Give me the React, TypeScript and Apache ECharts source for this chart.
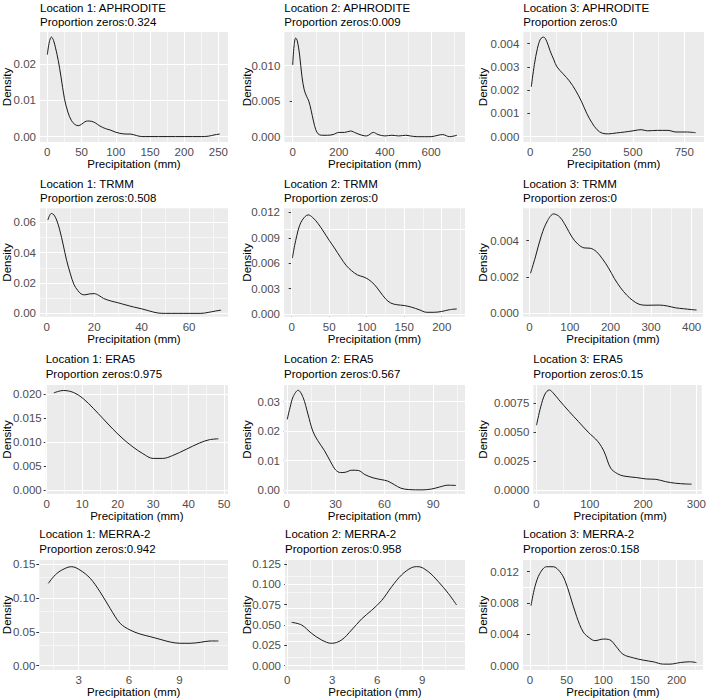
import React, { useEffect, useRef } from "react";
import * as echarts from "echarts";

// ---------- data ----------
const panelTitles = [
  "Location 1: APHRODITE", "Location 2: APHRODITE", "Location 3: APHRODITE",
  "Location 1: TRMM", "Location 2: TRMM", "Location 3: TRMM",
  "Location 1: ERA5", "Location 2: ERA5", "Location 3: ERA5",
  "Location 1: MERRA-2", "Location 2: MERRA-2", "Location 3: MERRA-2",
];
const proportionZeros = ["0.324", "0.009", "0", "0.508", "0", "0", "0.975", "0.567", "0.15", "0.942", "0.958", "0.158"];

const loc1Aphrodite = [
  [0, 0.0226], [3, 0.0262], [6, 0.0275], [9, 0.0266], [12, 0.0245], [16, 0.021], [20, 0.0165], [25, 0.0105],
  [30, 0.0068], [35, 0.0045], [40, 0.0034], [45, 0.003], [50, 0.0034], [55, 0.0041], [59, 0.0043], [65, 0.0042],
  [70, 0.0038], [77, 0.0029], [85, 0.0022], [92, 0.0018], [100, 0.0012], [106, 0.0009], [115, 0.0007], [121, 0.0007],
  [130, 0.0003], [138, 0.0], [150, 0], [175, 0], [200, 0], [225, 0], [235, 0.0001], [245, 0.0005], [252, 0.0007],
];
const loc2Aphrodite = [
  [0, 0.0101], [6, 0.0128], [13, 0.0139], [20, 0.0135], [30, 0.0115], [40, 0.0085], [50, 0.0066], [60, 0.0057],
  [70, 0.005], [80, 0.0037], [90, 0.0022], [100, 0.001], [110, 0.0004], [125, 0.0002], [150, 0.0002], [175, 0.0003],
  [200, 0.0006], [225, 0.0006], [250, 0.0008], [275, 0.0005], [300, 0.0002], [320, 0.0001], [350, 0.0006], [370, 0.0003],
  [400, 0.0001], [430, 0.0002], [460, 0.0001], [490, 0.0002], [510, 0.0001], [540, 0], [600, 0], [630, 0.0002],
  [650, 0.0003], [680, 0], [700, 0.0001], [712, 0.0002],
];
const loc3Aphrodite = [
  [5, 0.00215], [20, 0.0031], [35, 0.0038], [50, 0.0042], [65, 0.00428], [80, 0.0041], [96, 0.0037], [115, 0.0033],
  [130, 0.003], [160, 0.0027], [190, 0.0024], [220, 0.002], [250, 0.0015], [275, 0.001], [300, 0.0006], [325, 0.0003],
  [350, 0.00015], [380, 0.00012], [420, 0.00016], [460, 0.0002], [500, 0.00025], [540, 0.0003], [570, 0.00025],
  [620, 0.00027], [670, 0.00027], [710, 0.0002], [760, 0.0002], [805, 0.00017],
];
const loc1Trmm = [
  [0.5, 0.0615], [2, 0.0658], [3, 0.065], [4.2, 0.0615], [5.5, 0.055], [7, 0.045], [8.4, 0.035], [10, 0.026],
  [11.5, 0.019], [13, 0.0153], [14.5, 0.0128], [16, 0.0122], [18, 0.0128], [20, 0.013], [22, 0.0118], [24, 0.0098],
  [27, 0.0082], [30, 0.007], [33, 0.0057], [36.6, 0.0042], [40, 0.003], [43, 0.0017], [47, 0.0002], [50, 0],
  [55, 0], [60, 0], [65, 0], [68, 0.0006], [71, 0.0015], [73.5, 0.0021],
];
const loc2Trmm = [
  [1, 0.0066], [4, 0.0081], [7, 0.0093], [10, 0.0103], [15, 0.0112], [22, 0.0117], [28, 0.0114], [35, 0.0107],
  [42, 0.0098], [50, 0.0087], [57, 0.0078], [65, 0.0067], [73, 0.0057], [80, 0.0051], [88, 0.0046], [95, 0.0044],
  [102, 0.0041], [110, 0.0035], [118, 0.0026], [125, 0.0018], [132, 0.0013], [140, 0.0011], [150, 0.001],
  [160, 0.0008], [170, 0.0005], [180, 0.0002], [190, 0.0002], [200, 0.0003], [210, 0.0005], [220, 0.0006],
];
const loc3Trmm = [
  [3, 0.0022], [15, 0.0031], [30, 0.0043], [45, 0.0051], [60, 0.00547], [75, 0.0053], [90, 0.0048], [105, 0.0042],
  [120, 0.0038], [135, 0.0036], [150, 0.00358], [165, 0.0034], [180, 0.003], [195, 0.0025], [210, 0.0019],
  [225, 0.0014], [240, 0.001], [255, 0.0007], [270, 0.0005], [290, 0.00044], [320, 0.00045], [340, 0.0004],
  [360, 0.0003], [380, 0.00025], [400, 0.0002], [412, 0.00018],
];
const loc1Era5 = [
  [2, 0.0203], [4.7, 0.0208], [7.5, 0.0204], [10.3, 0.0191], [13.1, 0.0171], [15.9, 0.0149], [18.7, 0.0127],
  [21.5, 0.0107], [24.3, 0.009], [27.1, 0.0076], [30, 0.0066], [32.7, 0.0066], [35.5, 0.0072], [39.3, 0.0085],
  [43, 0.0098], [45.8, 0.0105], [48.4, 0.0107],
];
const loc2Era5 = [
  [0.3, 0.024], [2, 0.028], [4, 0.0318], [7, 0.0339], [10, 0.0315], [13, 0.0258], [16, 0.02], [19, 0.0168],
  [23, 0.0135], [27, 0.0095], [30, 0.0068], [33, 0.0059], [36, 0.006], [40, 0.0067], [44, 0.0066], [48, 0.0052],
  [53, 0.0041], [58, 0.0035], [62, 0.003], [66, 0.0018], [70, 0.0006], [75, 0.0001], [83, 0], [89, 0.0003],
  [94, 0.001], [99, 0.0016], [104, 0.0015],
];
const loc3Era5 = [
  [0, 0.0056], [8, 0.0072], [16, 0.0083], [24, 0.00865], [33, 0.0083], [42, 0.0078], [61, 0.0068], [79, 0.0059],
  [97, 0.005], [115, 0.0042], [127, 0.0033], [139, 0.0019], [152, 0.0014], [164, 0.0012], [188, 0.00107],
  [206, 0.00095], [224, 0.00092], [242, 0.00072], [261, 0.00058], [279, 0.00052], [291, 0.0005],
];
const loc1Merra2 = [
  [1.19, 0.1215], [1.69, 0.136], [2.29, 0.1446], [2.58, 0.146], [3.08, 0.141], [3.68, 0.129], [4.27, 0.109],
  [4.87, 0.0846], [5.47, 0.0625], [6.06, 0.0526], [6.66, 0.0467], [7.26, 0.0428], [7.85, 0.0389], [8.45, 0.0349],
  [9.05, 0.033], [9.64, 0.033], [10.24, 0.0344], [10.83, 0.0364], [11.33, 0.0364],
];
const loc2Merra2 = [
  [0.29, 0.0533], [0.96, 0.05], [1.62, 0.0398], [2.29, 0.0316], [2.96, 0.0275], [3.62, 0.0316], [4.29, 0.0439],
  [4.96, 0.0575], [5.62, 0.068], [6.29, 0.08], [6.96, 0.097], [7.62, 0.1115], [8.29, 0.1205], [8.73, 0.1217],
  [9.4, 0.1156], [10.07, 0.1033], [10.73, 0.089], [11.29, 0.0746],
];
const loc3Merra2 = [
  [1.4, 0.00766], [6.8, 0.0101], [13.6, 0.0118], [22.7, 0.01264], [31.8, 0.01264], [40.9, 0.012], [47.7, 0.0109],
  [54.5, 0.009], [63.6, 0.0063], [72.7, 0.0043], [81.8, 0.0035], [88.6, 0.0032], [100, 0.0034], [109, 0.0033],
  [118, 0.0024], [127, 0.00145], [141, 0.001], [155, 0.0007], [168, 0.0005], [182, 0.0002], [191, 0.0002],
  [205, 0.0004], [218, 0.0005], [227, 0.0004],
];
const curves = [
  loc1Aphrodite, loc2Aphrodite, loc3Aphrodite,
  loc1Trmm, loc2Trmm, loc3Trmm,
  loc1Era5, loc2Era5, loc3Era5,
  loc1Merra2, loc2Merra2, loc3Merra2,
];

// tick labels
const xTicks = [
  [0, 50, 100, 150, 200, 250], [0, 200, 400, 600], [0, 250, 500, 750],
  [0, 20, 40, 60], [0, 50, 100, 150, 200], [0, 100, 200, 300, 400],
  [0, 10, 20, 30, 40, 50], [0, 30, 60, 90], [0, 100, 200, 300],
  [3, 6, 9], [0, 3, 6, 9], [0, 50, 100, 150, 200],
];
const yTicks = [
  [0, 0.01, 0.02], [0, 0.005, 0.01], [0, 0.001, 0.002, 0.003, 0.004],
  [0, 0.02, 0.04, 0.06], [0, 0.003, 0.006, 0.009, 0.012], [0, 0.002, 0.004],
  [0, 0.005, 0.01, 0.015, 0.02], [0, 0.01, 0.02, 0.03], [0, 0.0025, 0.005, 0.0075],
  [0, 0.05, 0.1, 0.15], [0, 0.025, 0.05, 0.075, 0.1, 0.125], [0, 0.004, 0.008, 0.012],
];
const yDecimals = [2, 3, 3, 2, 3, 3, 3, 2, 4, 2, 3, 3];

// axis (scale) ranges
const xRanges = [
  [-10.7, 264], [-36.4, 747], [-34, 846],
  [-2.8, 76.4], [-10.2, 231], [-15.6, 428],
  [-0.28, 51.1], [-1.7, 109.5], [-6, 310],
  [0.65, 11.9], [-0.15, 11.85], [-9.5, 236],
];
const yRanges = [
  [-0.0015, 0.0289], [-0.00075, 0.01475], [-0.00023, 0.0045],
  [-0.0022, 0.0692], [-0.00032, 0.01248], [-0.00019, 0.00578],
  [-0.00084, 0.02195], [-0.0014, 0.0357], [-0.00035, 0.00908],
  [-0.0064, 0.1559], [-0.0053, 0.1299], [-0.00055, 0.0135],
];

// ---------- layout ----------
const panelLeft = [40, 284.3, 523.3, 40, 284, 523, 45.7, 284, 533.3, 39.3, 285, 523];
const panelRight = [228, 465, 704, 228, 465, 703, 228, 465, 707, 228, 465, 703];
const rowTop = [32, 208.3, 385, 560];
const rowBottom = [142, 316.7, 494, 670];
const titleY1 = [8, 183.5, 358.5, 533.5];
const titleY2 = [22, 197.5, 373.5, 548.5];
const densityX = [6.7, 246.7, 483.3];

const FONT = "Arial, 'Liberation Sans', sans-serif";

function minorBreaks(ticks: number[], range: number[]) {
  const step = ticks[1] - ticks[0];
  const out: number[] = [];
  [ticks[0] - step, ...ticks].forEach((t) => {
    const m = t + step / 2;
    if (m > range[0] && m < range[1]) out.push(m);
  });
  return out;
}
function majorBreaks(ticks: number[], range: number[]) {
  return ticks.filter((t) => t > range[0] && t < range[1]);
}

export default function App() {
  const ref = useRef<HTMLDivElement>(null);
  useEffect(() => {
    if (!ref.current) return;
    const chart = echarts.init(ref.current, undefined, { renderer: "svg" });
    const grids: any[] = [];
    const xAxes: any[] = [];
    const yAxes: any[] = [];
    const series: any[] = [];
    const graphics: any[] = [];
    curves.forEach((curve, i) => {
      const r = Math.floor(i / 3);
      const c = i % 3;
      const left = panelLeft[i];
      const top = rowTop[r];
      const width = panelRight[i] - left;
      const height = rowBottom[r] - top;
      grids.push({
        left, top, width, height, show: true, backgroundColor: "#EBEBEB", borderWidth: 0, containLabel: false,
      });
      const dec = yDecimals[i];
      xAxes.push({
        gridIndex: i, type: "value", min: xRanges[i][0], max: xRanges[i][1],
        axisLine: { show: false },
        axisTick: { show: true, customValues: xTicks[i], length: 3, lineStyle: { color: "#333333", width: 1 } },
        axisLabel: {
          customValues: xTicks[i], color: "#4D4D4D", fontSize: 11.5, fontFamily: FONT, margin: 4,
          formatter: (v: number) => String(v),
        },
        splitLine: { show: false },
      });
      yAxes.push({
        gridIndex: i, type: "value", min: yRanges[i][0], max: yRanges[i][1],
        axisLine: { show: false },
        axisTick: { show: true, customValues: yTicks[i], length: 3, lineStyle: { color: "#333333", width: 1 } },
        axisLabel: {
          customValues: yTicks[i], color: "#4D4D4D", fontSize: 11.5, fontFamily: FONT, margin: 4,
          formatter: (v: number) => v.toFixed(dec),
        },
        splitLine: { show: false },
      });
      const gridLines: any[] = [];
      minorBreaks(xTicks[i], xRanges[i]).forEach((v) => gridLines.push({ xAxis: v, lineStyle: { width: 0.55 } }));
      minorBreaks(yTicks[i], yRanges[i]).forEach((v) => gridLines.push({ yAxis: v, lineStyle: { width: 0.55 } }));
      majorBreaks(xTicks[i], xRanges[i]).forEach((v) => gridLines.push({ xAxis: v, lineStyle: { width: 1.1 } }));
      majorBreaks(yTicks[i], yRanges[i]).forEach((v) => gridLines.push({ yAxis: v, lineStyle: { width: 1.1 } }));
      series.push({
        type: "line", xAxisIndex: i, yAxisIndex: i, data: curve, smooth: 0.35, showSymbol: false, symbol: "none",
        lineStyle: { color: "#1a1a1a", width: 1 }, z: 3, silent: true,
        markLine: {
          silent: true, symbol: ["none", "none"], z: 1, label: { show: false },
          lineStyle: { color: "#FFFFFF", type: "solid", width: 1 },
          emphasis: { disabled: true },
          data: gridLines,
        },
      });
      const mkText = (text: string, x: number, y: number, size: number, align: string, rotation = 0) => ({
        type: "text", x, y, rotation, silent: true,
        style: {
          text, fill: "#000000", fontSize: size, fontFamily: FONT,
          align, verticalAlign: "middle", textAlign: align, textVerticalAlign: "middle",
        },
      });
      graphics.push(mkText(panelTitles[i], left, titleY1[r], 11.5, "left"));
      graphics.push(mkText("Proportion zeros:" + proportionZeros[i], left, titleY2[r], 11.5, "left"));
      graphics.push(mkText("Precipitation (mm)", left + width / 2, rowBottom[r] + 22, 11.5, "center"));
      graphics.push(mkText("Density", densityX[c], top + height / 2, 11.5, "center", Math.PI / 2));
    });
    chart.setOption({
      animation: false,
      backgroundColor: "#FFFFFF",
      grid: grids,
      xAxis: xAxes,
      yAxis: yAxes,
      series,
      graphic: graphics,
    });
    return () => chart.dispose();
  }, []);
  return (
    <div
      ref={ref}
      style={{ position: "absolute", left: 0, top: 0, width: 709, height: 699, overflow: "hidden" }}
    />
  );
}
